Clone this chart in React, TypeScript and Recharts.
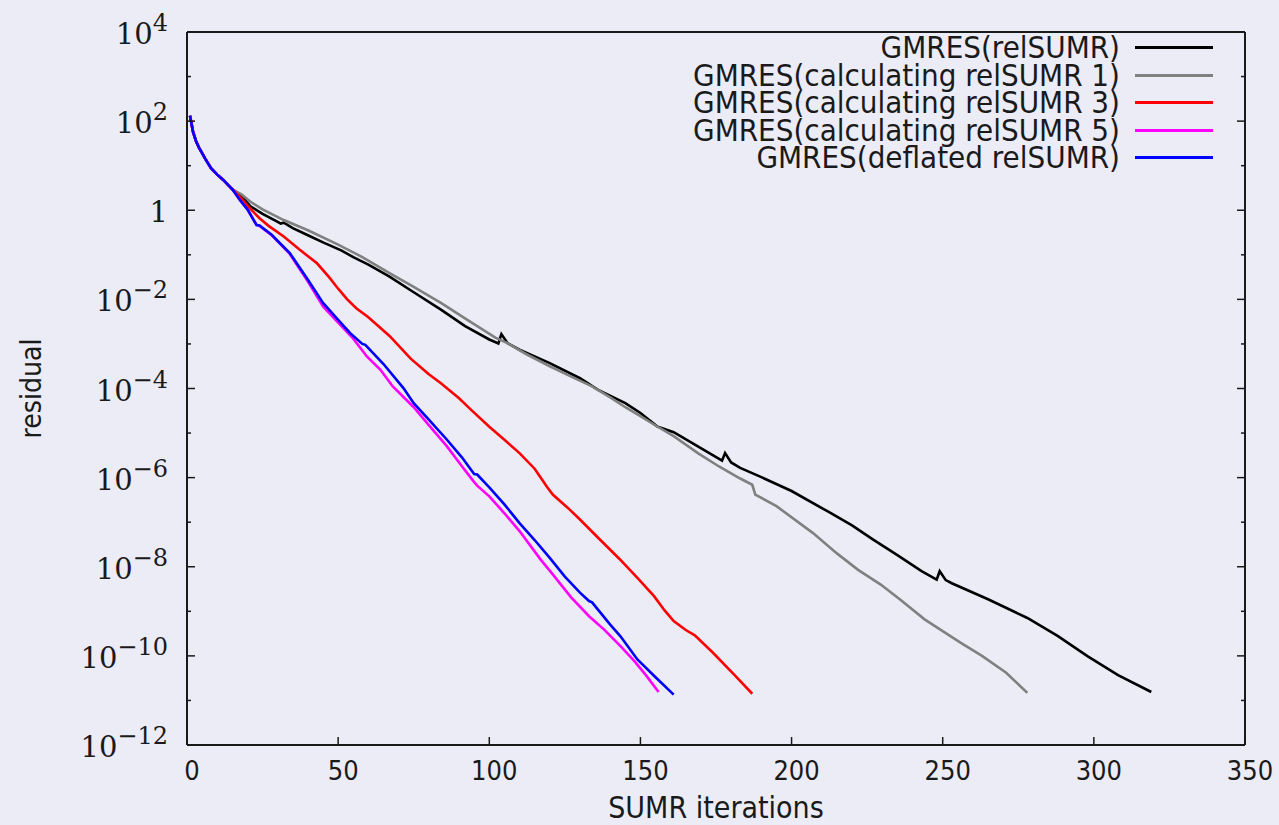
import { LineChart, Line, XAxis, YAxis, Legend, Label } from 'recharts';

// [SUMR iteration, log10(residual)]
const shared: [number, number][] = [
  [1, 2.12], [2, 1.76], [3, 1.55], [4, 1.4], [5, 1.28], [6, 1.16],
  [8, 0.94], [10, 0.8], [12, 0.68], [15, 0.47],
];

const relSumr: [number, number][] = [
  ...shared,
  [18, 0.32], [21, 0.09], [25, -0.08], [30, -0.26], [31, -0.3], [32, -0.28], [35, -0.4],
  [40, -0.56], [45, -0.72], [51, -0.9], [55, -1.05], [60, -1.22], [67, -1.49], [75, -1.84],
  [84, -2.23], [92, -2.6], [100, -2.9], [103, -2.99], [104, -2.78], [106, -2.98], [110, -3.13],
  [120, -3.43], [130, -3.77], [136, -4.03], [145, -4.33], [150, -4.55], [155.5, -4.85],
  [161, -4.98], [169, -5.3], [177, -5.62], [178, -5.45], [180, -5.66], [183, -5.78],
  [190, -5.99], [200, -6.3], [212, -6.76], [220, -7.07], [227, -7.39], [235, -7.74],
  [243, -8.1], [248, -8.29], [249, -8.1], [251, -8.3], [253, -8.37], [265, -8.73],
  [278, -9.15], [288, -9.55], [298, -10.01], [308, -10.43], [319, -10.81],
];

const calc1: [number, number][] = [
  ...shared,
  [18, 0.36], [21, 0.19], [25, 0.02], [32, -0.22], [40, -0.45], [50, -0.77], [58, -1.05],
  [67, -1.41], [75, -1.72], [84, -2.08], [93, -2.47], [102, -2.86], [106, -2.98],
  [112, -3.22], [120, -3.5], [128, -3.76], [134, -3.95], [140, -4.2], [145, -4.42],
  [150, -4.62], [155, -4.83], [161, -5.07], [169, -5.45], [176, -5.75], [183, -6.02],
  [187, -6.16], [188, -6.38], [195, -6.64], [207, -7.24], [215, -7.7], [222, -8.07],
  [229.5, -8.4], [236, -8.74], [244, -9.18], [256, -9.71], [263, -10.0], [271, -10.38],
  [278, -10.83],
];

const calc3: [number, number][] = [
  ...shared,
  [17, 0.34], [21, 0.03], [24, -0.18], [27, -0.35], [32, -0.59], [37, -0.87], [43, -1.19],
  [47, -1.5], [50, -1.76], [53, -2.0], [56, -2.2], [60, -2.4], [67, -2.82], [74, -3.33],
  [80, -3.68], [84, -3.88], [90, -4.22], [94, -4.48], [100, -4.86], [105, -5.15],
  [110, -5.45], [115, -5.8], [118, -6.1], [119, -6.2], [121, -6.38], [126, -6.68],
  [130, -6.94], [136, -7.35], [143, -7.82], [149, -8.25], [154.5, -8.66], [158, -8.98],
  [161, -9.22], [165, -9.42], [168, -9.54], [174, -9.93], [181, -10.42], [187, -10.85],
];

const calc5: [number, number][] = [
  ...shared,
  [17.5, 0.23], [20, 0.02], [23, -0.33], [24, -0.35], [28, -0.56], [34, -0.98], [40, -1.6],
  [45, -2.16], [50, -2.52], [55, -2.88], [59.5, -3.28], [64, -3.58], [68, -3.95],
  [75, -4.42], [80, -4.82], [86, -5.3], [91, -5.75], [95, -6.1], [96, -6.18], [100, -6.42],
  [105, -6.8], [110, -7.2], [117, -7.84], [121, -8.17], [127, -8.68], [133, -9.11],
  [138, -9.41], [143.4, -9.78], [148, -10.12], [152, -10.45], [156, -10.81],
];

const deflated: [number, number][] = [
  ...shared,
  [17.5, 0.23], [20, 0.02], [23, -0.33], [24, -0.34], [28, -0.55], [34, -0.96], [40, -1.56],
  [45, -2.08], [50, -2.46], [54, -2.76], [58, -3.0], [59, -3.02], [65, -3.45], [71.6, -3.99],
  [75, -4.33], [80, -4.7], [86, -5.15], [91, -5.55], [95, -5.92], [96, -5.93], [100, -6.22],
  [105, -6.6], [110, -7.02], [115, -7.4], [120, -7.8], [125, -8.22], [130, -8.58],
  [133, -8.77], [134, -8.8], [140, -9.3], [143.4, -9.56], [149, -10.08], [155, -10.48],
  [161, -10.87],
];

const seriesNames = [
  'GMRES(relSUMR)',
  'GMRES(calculating relSUMR 1)',
  'GMRES(calculating relSUMR 3)',
  'GMRES(calculating relSUMR 5)',
  'GMRES(deflated relSUMR)',
];
const seriesColors = ['#000000', '#808080', '#ff0000', '#ff00ff', '#0000ff'];
const seriesPoints = [relSumr, calc1, calc3, calc5, deflated];

const xTicks = [0, 50, 100, 150, 200, 250, 300, 350];
const yExponents = [4, 3, 2, 1, 0, -1, -2, -3, -4, -5, -6, -7, -8, -9, -10, -11, -12];
const yTicks = yExponents.map((e) => 10 ** e);

const sans = "'DejaVu Sans Condensed', 'DejaVu Sans', sans-serif";
const serif = "'DejaVu Serif', 'Liberation Serif', serif";
const ink = '#1a1a1a';

const expOf = (v: number) => Math.round(Math.log10(v));

const LeftTick = (props: any) => {
  const { x, y, payload } = props;
  const e = expOf(payload.value);
  const major = e % 2 === 0;
  return (
    <g>
      <line x1={x} x2={x + (major ? 8 : 4)} y1={y} y2={y} stroke={ink} strokeWidth={1.5} />
      {major && (
        <text x={x - 19} y={y + 12} textAnchor="end" fontFamily={serif} fontSize={29} fill={ink}>
          {e === 0 ? (
            '1'
          ) : (
            <>
              <tspan>10</tspan>
              <tspan dy={-13} fontSize={24}>{e < 0 ? `\u2212${-e}` : `${e}`}</tspan>
            </>
          )}
        </text>
      )}
    </g>
  );
};

const RightTick = (props: any) => {
  const { x, y, payload } = props;
  const major = expOf(payload.value) % 2 === 0;
  return <line x1={x} x2={x - (major ? 8 : 4)} y1={y} y2={y} stroke={ink} strokeWidth={1.5} />;
};

const BottomTick = (props: any) => {
  const { x, y, payload } = props;
  return (
    <g>
      <line x1={x} x2={x} y1={y} y2={y - 8} stroke={ink} strokeWidth={1.5} />
      <text x={x + 5} y={y + 35} textAnchor="middle" fontFamily={sans} fontSize={27} fill={ink}>
        {payload.value}
      </text>
    </g>
  );
};

const TopTick = (props: any) => {
  const { x, y } = props;
  return <line x1={x} x2={x} y1={y} y2={y + 8} stroke={ink} strokeWidth={1.5} />;
};

const LegendBox = () => (
  <div style={{ fontFamily: sans, fontSize: 31, color: ink }}>
    {seriesNames.map((name, i) => (
      <div
        key={name}
        style={{ display: 'flex', justifyContent: 'flex-end', alignItems: 'center', height: 27.5, lineHeight: '27.5px' }}
      >
        <span style={{ whiteSpace: 'nowrap' }}>{name}</span>
        <span style={{ display: 'inline-block', width: 78, height: 3, marginLeft: 15, background: seriesColors[i] }} />
      </div>
    ))}
  </div>
);

export default function App() {
  return (
    <div style={{ position: 'absolute', left: 0, top: 0, width: 1279, height: 825, background: '#ececf7' }}>
      <LineChart width={1279} height={825} margin={{ top: 2, right: 4, bottom: 0, left: 0 }}>
        <XAxis
          xAxisId="bottom"
          dataKey="x"
          type="number"
          domain={[0, 350]}
          ticks={xTicks}
          interval={0}
          height={80}
          tickSize={0}
          tickMargin={0}
          tickLine={false}
          axisLine={{ stroke: ink, strokeWidth: 2 }}
          tick={<BottomTick />}
        >
          <Label
            content={(p: any) => (
              <text
                x={p.viewBox.x + p.viewBox.width / 2}
                y={p.viewBox.y + 73}
                textAnchor="middle"
                fontFamily={sans}
                fontSize={30}
                fill={ink}
              >
                SUMR iterations
              </text>
            )}
          />
        </XAxis>
        <XAxis
          xAxisId="top"
          dataKey="x"
          type="number"
          orientation="top"
          domain={[0, 350]}
          ticks={xTicks}
          interval={0}
          height={30}
          tickSize={0}
          tickMargin={0}
          tickLine={false}
          axisLine={{ stroke: ink, strokeWidth: 2 }}
          tick={<TopTick />}
        />
        <YAxis
          yAxisId="left"
          dataKey="y"
          type="number"
          scale="log"
          domain={[1e-12, 1e4]}
          allowDataOverflow
          ticks={yTicks}
          interval={0}
          width={187}
          tickSize={0}
          tickMargin={0}
          tickLine={false}
          axisLine={{ stroke: ink, strokeWidth: 2 }}
          tick={<LeftTick />}
        >
          <Label
            content={(p: any) => {
              const cx = p.viewBox.x + 31;
              const cy = p.viewBox.y + p.viewBox.height / 2;
              return (
                <text
                  x={cx}
                  y={cy}
                  transform={`rotate(-90 ${cx} ${cy})`}
                  textAnchor="middle"
                  dominantBaseline="central"
                  fontFamily={sans}
                  fontSize={28}
                  fill={ink}
                >
                  residual
                </text>
              );
            }}
          />
        </YAxis>
        <YAxis
          yAxisId="right"
          orientation="right"
          type="number"
          scale="log"
          domain={[1e-12, 1e4]}
          allowDataOverflow
          ticks={yTicks}
          interval={0}
          width={30}
          tickSize={0}
          tickMargin={0}
          tickLine={false}
          axisLine={{ stroke: ink, strokeWidth: 2 }}
          tick={<RightTick />}
        />
        <Legend
          layout="vertical"
          align="center"
          verticalAlign="middle"
          wrapperStyle={{ left: 500, top: 34, width: 713 }}
          content={<LegendBox />}
        />
        {seriesPoints.map((pts, i) => (
          <Line
            key={seriesNames[i]}
            name={seriesNames[i]}
            xAxisId="bottom"
            yAxisId="left"
            data={pts.map(([x, e]) => ({ x, y: 10 ** e }))}
            dataKey="y"
            type="linear"
            stroke={seriesColors[i]}
            strokeWidth={2.6}
            dot={false}
            activeDot={false}
            isAnimationActive={false}
          />
        ))}
      </LineChart>
    </div>
  );
}
